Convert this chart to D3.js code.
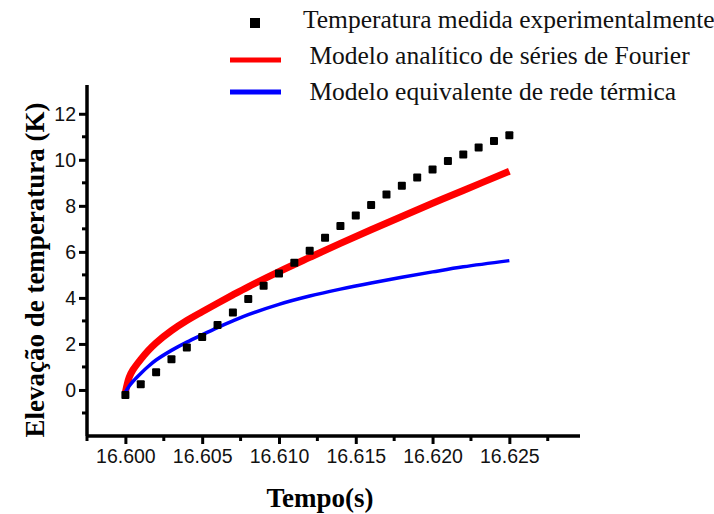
<!DOCTYPE html>
<html lang="pt">
<head>
    <meta charset="UTF-8">
    <title>Elevação de temperatura</title>
    <script src="https://cdn.jsdelivr.net/npm/d3@7"></script>
    <style>
        body { margin: 0; background: #fff; }
    </style>
</head>
<body>
<div id="chart"></div>
<script>

    // measured points (time in s, temperature rise in K)
    const expTime = [16.600, 16.601, 16.602, 16.603, 16.604, 16.605, 16.606, 16.607, 16.608, 16.609,
        16.610, 16.611, 16.612, 16.613, 16.614, 16.615, 16.616, 16.617, 16.618, 16.619,
        16.620, 16.621, 16.622, 16.623, 16.624, 16.625];
    const expTemp = [-0.22, 0.25, 0.77, 1.33, 1.84, 2.30, 2.82, 3.37, 3.95, 4.53,
        5.06, 5.53, 6.05, 6.61, 7.12, 7.58, 8.04, 8.49, 8.87, 9.23,
        9.58, 9.95, 10.23, 10.53, 10.82, 11.07];

    // model curves
    const modelTime = [16.6000, 16.60025, 16.6005, 16.6010, 16.6015, 16.6020, 16.6030, 16.6040, 16.6050,
        16.6060, 16.6070, 16.6080, 16.6100, 16.6120, 16.6140, 16.6160, 16.6180, 16.6200, 16.6220, 16.6250];
    const fourierTemp = [-0.10, 0.55, 0.88, 1.33, 1.72, 2.05, 2.58, 3.02, 3.40,
        3.77, 4.13, 4.48, 5.14, 5.76, 6.37, 6.96, 7.54, 8.11, 8.67, 9.50];
    const networkTemp = [-0.10, 0.17, 0.38, 0.72, 1.03, 1.30, 1.72, 2.08, 2.40,
        2.71, 3.00, 3.27, 3.72, 4.08, 4.38, 4.65, 4.90, 5.13, 5.35, 5.62];

    const xTicks = [16.600, 16.605, 16.610, 16.615, 16.620, 16.625];
    const xMinor = [16.5975, 16.6025, 16.6075, 16.6125, 16.6175, 16.6225, 16.6275];
    const yTicks = [0, 2, 4, 6, 8, 10, 12];
    const yMinor = [-1, 1, 3, 5, 7, 9, 11];

    const legendLabels = [
        "Temperatura medida experimentalmente",
        " Modelo analítico de séries de Fourier",
        " Modelo equivalente de rede térmica"
    ];

    const width = 714;
    const height = 514;
    const serif = "'Liberation Serif', 'Times New Roman', serif";
    const sans = "'Liberation Sans', Arial, sans-serif";

    const x = d3.scaleLinear()
        .domain([16.5975, 16.6296])
        .range([87, 580]);

    const y = d3.scaleLinear()
        .domain([-2, 13.25])
        .range([436, 85]);

    const svg = d3.select("#chart")
        .append("svg")
        .attr("width", width)
        .attr("height", height)
        .attr("viewBox", [0, 0, width, height]);

    svg.append("rect")
        .attr("width", width)
        .attr("height", height)
        .attr("fill", "#fff");

    // axes
    const gx = svg.append("g")
        .attr("transform", `translate(0,${y(-2)})`)
        .call(d3.axisBottom(x).tickValues(xTicks).tickFormat(d3.format(".3f")).tickSize(8).tickPadding(5));
    gx.selectAll(".tick text")
        .attr("font-family", sans)
        .attr("font-size", 19.5)
        .attr("fill", "#111");
    gx.append("g")
        .selectAll("line")
        .data(xMinor)
        .join("line")
        .attr("x1", d => x(d))
        .attr("x2", d => x(d))
        .attr("y1", 0)
        .attr("y2", 5);

    const gy = svg.append("g")
        .attr("transform", `translate(${x(16.5975)},0)`)
        .call(d3.axisLeft(y).tickValues(yTicks).tickSize(8).tickPadding(3));
    gy.selectAll(".tick text")
        .attr("font-family", sans)
        .attr("font-size", 19.5)
        .attr("fill", "#111");
    gy.append("g")
        .selectAll("line")
        .data(yMinor)
        .join("line")
        .attr("x1", 0)
        .attr("x2", -5)
        .attr("y1", d => y(d))
        .attr("y2", d => y(d));

    svg.selectAll(".domain, .tick line")
        .attr("stroke", "#000")
        .attr("stroke-width", 3);
    svg.selectAll("g g line")
        .attr("stroke", "#000")
        .attr("stroke-width", 3);
    svg.selectAll(".domain")
        .attr("stroke-width", 3.5);
    // plain L-shaped axes, no end caps
    gx.select(".domain").attr("d", `M${x(16.5975)},0H${x(16.6296)}`);
    gy.select(".domain").attr("d", `M0,${y(-2)}V${y(13.25)}`);

    // model curves
    const line = d3.line()
        .x(d => x(d[0]))
        .y(d => y(d[1]))
        .curve(d3.curveCatmullRom.alpha(0.5));

    svg.append("path")
        .datum(d3.zip(modelTime, fourierTemp))
        .attr("fill", "none")
        .attr("stroke", "#ff0000")
        .attr("stroke-width", 7)
        .attr("d", line);

    svg.append("path")
        .datum(d3.zip(modelTime, networkTemp))
        .attr("fill", "none")
        .attr("stroke", "#0000ff")
        .attr("stroke-width", 3.5)
        .attr("d", line);

    // experimental squares
    svg.append("g")
        .selectAll("rect")
        .data(d3.zip(expTime, expTemp))
        .join("rect")
        .attr("x", d => x(d[0]) - 4)
        .attr("y", d => y(d[1]) - 4)
        .attr("width", 8)
        .attr("height", 8)
        .attr("rx", 1)
        .attr("fill", "#000");

    // axis titles
    svg.append("text")
        .attr("x", 320)
        .attr("y", 507)
        .attr("text-anchor", "middle")
        .attr("font-family", serif)
        .attr("font-weight", "bold")
        .attr("font-size", 27)
        .text("Tempo(s)");

    svg.append("text")
        .attr("transform", "translate(44,270) rotate(-90)")
        .attr("text-anchor", "middle")
        .attr("font-family", serif)
        .attr("font-weight", "bold")
        .attr("font-size", 27)
        .text("Elevação de temperatura (K)");

    // legend
    const legend = svg.append("g");
    const rowY = i => 28 + 36 * i;

    legend.append("rect")
        .attr("x", 250)
        .attr("y", rowY(0) - 10)
        .attr("width", 10)
        .attr("height", 10)
        .attr("fill", "#000");
    legend.append("line")
        .attr("x1", 230).attr("x2", 281)
        .attr("y1", rowY(1) - 4).attr("y2", rowY(1) - 4)
        .attr("stroke", "#ff0000")
        .attr("stroke-width", 5);
    legend.append("line")
        .attr("x1", 230).attr("x2", 281)
        .attr("y1", rowY(2) - 8).attr("y2", rowY(2) - 8)
        .attr("stroke", "#0000ff")
        .attr("stroke-width", 5);

    legend.selectAll("text")
        .data(legendLabels)
        .join("text")
        .attr("x", 303)
        .attr("y", (d, i) => rowY(i))
        .attr("font-family", serif)
        .attr("font-size", 25.5)
        .attr("fill", "#111")
        .attr("xml:space", "preserve")
        .style("white-space", "pre")
        .text(d => d);

</script>
</body>
</html>
